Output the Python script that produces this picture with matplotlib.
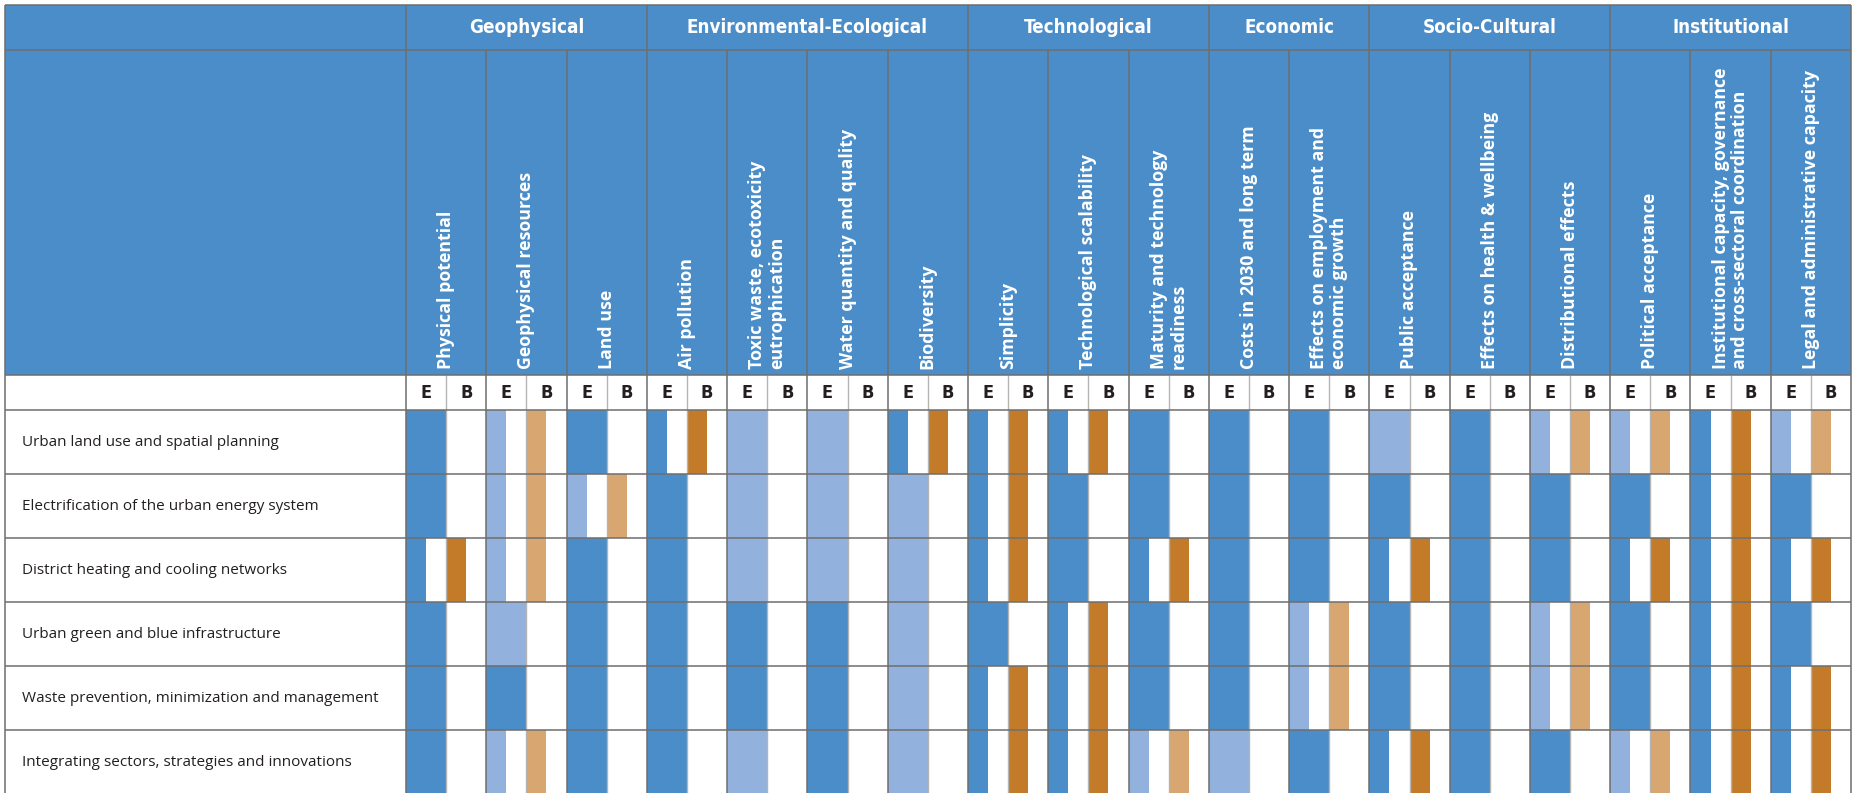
#! /usr/bin/python3

# feasibility table: evidence (E) and barrier (B) bars per option and indicator
import matplotlib.pyplot as plt

groups = ['Geophysical', 'Environmental-Ecological', 'Technological',
          'Economic', 'Socio-Cultural', 'Institutional']
group_sizes = [3, 4, 3, 2, 3, 3]

indicators = ['Physical potential', 'Geophysical resources', 'Land use',
              'Air pollution', 'Toxic waste, ecotoxicity\neutrophication',
              'Water quantity and quality', 'Biodiversity',
              'Simplicity', 'Technological scalability',
              'Maturity and technology\nreadiness',
              'Costs in 2030 and long term',
              'Effects on employment and\neconomic growth',
              'Public acceptance', 'Effects on health & wellbeing',
              'Distributional effects', 'Political acceptance',
              'Institutional capacity, governance\nand cross-sectoral coordination',
              'Legal and administrative capacity']

options = ['Urban land use and spatial planning',
           'Electrification of the urban energy system',
           'District heating and cooling networks',
           'Urban green and blue infrastructure',
           'Waste prevention, minimization and management',
           'Integrating sectors, strategies and innovations']

# 2 = dark, 1 = light, 0 = none
e_level = [
    [2, 1, 2, 2, 1, 1, 2, 2, 2, 2, 2, 2, 1, 2, 1, 1, 2, 1],
    [2, 1, 1, 2, 1, 1, 1, 2, 2, 2, 2, 2, 2, 2, 2, 2, 2, 2],
    [2, 1, 2, 2, 1, 1, 1, 2, 2, 2, 2, 2, 2, 2, 2, 2, 2, 2],
    [2, 1, 2, 2, 2, 2, 1, 2, 2, 2, 2, 1, 2, 2, 1, 2, 2, 2],
    [2, 2, 2, 2, 2, 2, 1, 2, 2, 2, 2, 1, 2, 2, 1, 2, 2, 2],
    [2, 1, 2, 2, 1, 2, 1, 2, 2, 1, 1, 2, 2, 2, 2, 1, 2, 2],
]
b_level = [
    [0, 1, 0, 2, 0, 0, 2, 2, 2, 0, 0, 0, 0, 0, 1, 1, 2, 1],
    [0, 1, 1, 0, 0, 0, 0, 2, 0, 0, 0, 0, 0, 0, 0, 0, 2, 0],
    [2, 1, 0, 0, 0, 0, 0, 2, 0, 2, 0, 0, 2, 0, 0, 2, 2, 2],
    [0, 0, 0, 0, 0, 0, 0, 0, 2, 0, 0, 1, 0, 0, 1, 0, 2, 0],
    [0, 0, 0, 0, 0, 0, 0, 2, 2, 0, 0, 1, 0, 0, 1, 0, 2, 2],
    [0, 1, 0, 0, 0, 0, 0, 2, 2, 1, 0, 0, 2, 0, 0, 1, 2, 2],
]

blue = '#4a8dc9'
light_blue = '#92b2dd'
orange = '#c47b29'
light_orange = '#d8a671'
grid = '#6e6e6e'
ink = '#231f20'
narrow = ['Liberation Sans Narrow', 'DejaVu Sans']

# layout in pixels of the 1852x793 picture
W, H = 1852, 793
col0_px, col_w = 406, 80.28
row0_px, row_h = 410, 64.0

def px_x(p):
    return (p - col0_px) / col_w

def px_y(p):
    return (p - row0_px) / row_h

fig = plt.figure(figsize=(W / 100, H / 100), dpi=100)
ax = fig.add_axes([0, 0, 1, 1])
ax.set_xlim(px_x(0), px_x(W))
ax.set_ylim(px_y(H), px_y(0))
ax.axis('off')

n_cols = len(indicators)
n_rows = len(options)
left = px_x(5)
top = px_y(5)
head_bot = px_y(50)
eb_top = px_y(375)
bottom = n_rows + 0.1

# blue header block
ax.fill_between([left, n_cols], top, eb_top, color=blue, zorder=0, lw=0)

# bars
bars = {blue: [], light_blue: [], orange: [], light_orange: []}
for r in range(n_rows):
    for c in range(n_cols):
        e = e_level[r][c]
        b = b_level[r][c]
        w = 0.25 if b else 0.5
        if e:
            bars[blue if e == 2 else light_blue].append((c, r, w))
        if b:
            bars[orange if b == 2 else light_orange].append((c + 0.5, r, 0.25))
for color, items in bars.items():
    if items:
        ax.bar([i[0] for i in items], 1, width=[i[2] for i in items],
               bottom=[i[1] for i in items], align='edge', color=color,
               lw=0, zorder=1)

# grid lines
ax.hlines([top, head_bot, eb_top] + list(range(n_rows)), left, n_cols,
          color=grid, lw=1.1, zorder=3)
group_edges = [0]
for s in group_sizes:
    group_edges.append(group_edges[-1] + s)
ax.vlines([left] + group_edges, top, bottom, color=grid, lw=1.1, zorder=3)
inner = [c for c in range(n_cols) if c not in group_edges]
ax.vlines(inner, head_bot, bottom, color=grid, lw=1.1, zorder=3)
ax.vlines([c + 0.5 for c in range(n_cols)], eb_top, bottom,
          color='#b4b4b4', lw=1.0, zorder=2)

# group titles
for g, name in enumerate(groups):
    xc = (group_edges[g] + group_edges[g + 1]) / 2
    ax.text(xc, (top + head_bot) / 2, name, ha='center', va='center',
            color='white', fontsize=13.5, fontweight='bold',
            fontstretch='condensed', family=narrow)

# rotated indicator names
for c, name in enumerate(indicators):
    ax.text(c + 0.5, eb_top - 0.09, name, rotation=90, ha='center',
            va='bottom', multialignment='left', color='white',
            fontsize=12.8, fontweight='bold',
            family=['Open Sans', 'DejaVu Sans'], linespacing=1.12)

# E / B letters
for c in range(n_cols):
    for off, lab in [(0.25, 'E'), (0.75, 'B')]:
        ax.text(c + off, eb_top / 2, lab, ha='center', va='center',
                color=ink, fontsize=13, fontweight='bold',
                fontstretch='condensed', family=narrow)

# option names
for r, name in enumerate(options):
    ax.text(px_x(22), r + 0.5, name, ha='left', va='center', color=ink,
            fontsize=11, family=['Open Sans', 'DejaVu Sans'])

fig.savefig('out.png', dpi=100)
